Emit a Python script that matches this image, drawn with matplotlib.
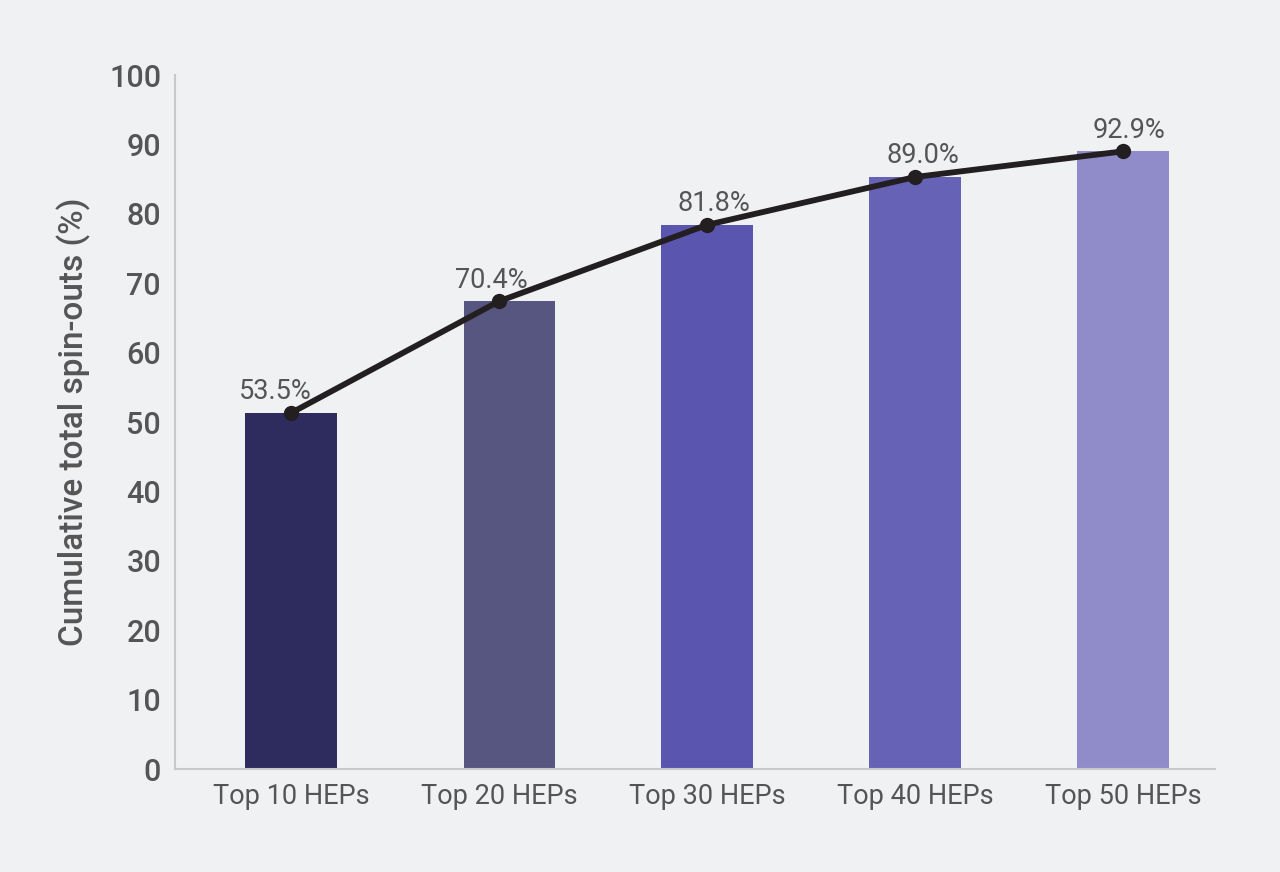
import matplotlib
matplotlib.use("Agg")
import matplotlib.pyplot as plt
import numpy as np

plt.rcParams['font.family'] = ['Roboto', 'DejaVu Sans']

categories = ["Top 10 HEPs", "Top 20 HEPs", "Top 30 HEPs", "Top 40 HEPs", "Top 50 HEPs"]
bar_values = [51.3, 67.4, 78.4, 85.3, 89.0]
line_values = [51.3, 67.4, 78.4, 85.3, 89.0]
value_labels = ["53.5%", "70.4%", "81.8%", "89.0%", "92.9%"]
bar_colors = ["#2e2c5f", "#575680", "#5a56b0", "#6663b7", "#908cc9"]

bg = "#f0f1f3"
text_col = "#555555"

fig = plt.figure(figsize=(12.8, 8.72), dpi=100, facecolor=bg)
ax = fig.add_axes([175 / 1280, 1 - 769 / 872, 1040 / 1280, 694 / 872])
ax.set_facecolor(bg)

x = np.arange(len(categories))
# the second bar sits a little right of its tick in the original
shift = np.array([0, 0.05, 0, 0, 0])
ax.bar(x + shift, bar_values, width=0.44, color=bar_colors, zorder=2)
ax.plot(x, line_values, color="#231f20", lw=4.2, marker="o", ms=10, zorder=3)

# labels were nudged sideways by hand in the original
label_dx = [-11.5, -5.8, 5, 5.8, 4.3]
for xi, v, lab, dx in zip(x, line_values, value_labels, label_dx):
    ax.annotate(lab, (xi, v), xytext=(dx, 5.5), textcoords="offset points",
                ha="center", va="bottom", fontsize=19.5, color=text_col)

ax.set_xlim(-0.558, 4.442)
ax.set_ylim(0, 100)
ax.set_yticks(np.arange(0, 101, 10))
ax.set_xticks(x)
ax.set_xticklabels(categories, fontsize=19.5, color=text_col)
ax.tick_params(axis="y", length=0, pad=10, labelsize=22, labelcolor=text_col)
ax.tick_params(axis="x", length=0, pad=10)
for t in ax.get_yticklabels():
    t.set_fontweight("medium")

ax.set_ylabel("Cumulative total spin-outs (%)", fontsize=24, color=text_col,
              fontweight="medium", labelpad=13)

for s in ["top", "right"]:
    ax.spines[s].set_visible(False)
for s in ["left", "bottom"]:
    ax.spines[s].set_color("#c8c8c8")
    ax.spines[s].set_linewidth(1.5)

fig.savefig("out.png", dpi=100, facecolor=bg)
